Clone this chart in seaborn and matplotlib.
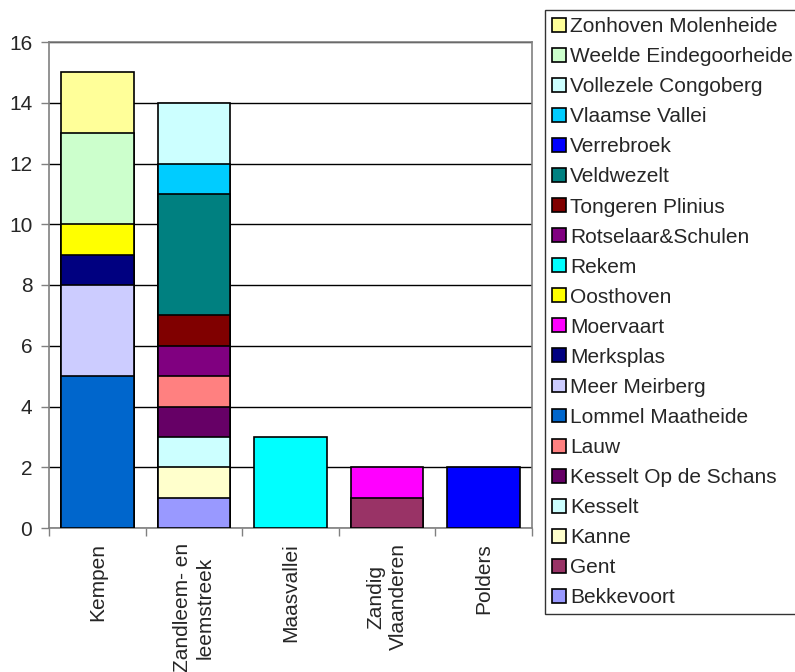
import matplotlib
matplotlib.use("Agg")
import matplotlib.pyplot as plt
import seaborn as sns
import numpy as np
import pandas as pd
from matplotlib.patches import Patch

categories = ["Kempen", "Zandleem- en\nleemstreek", "Maasvallei", "Zandig\nVlaanderen", "Polders"]

series_names = ["Bekkevoort", "Gent", "Kanne", "Kesselt", "Kesselt Op de Schans", "Lauw",
                "Lommel Maatheide", "Meer Meirberg", "Merksplas", "Moervaart", "Oosthoven",
                "Rekem", "Rotselaar&Schulen", "Tongeren Plinius", "Veldwezelt", "Verrebroek",
                "Vlaamse Vallei", "Vollezele Congoberg", "Weelde Eindegoorheide", "Zonhoven Molenheide"]

bekkevoort = [0, 1, 0, 0, 0]
gent = [0, 0, 0, 1, 0]
kanne = [0, 1, 0, 0, 0]
kesselt = [0, 1, 0, 0, 0]
kesselt_schans = [0, 1, 0, 0, 0]
lauw = [0, 1, 0, 0, 0]
lommel = [5, 0, 0, 0, 0]
meer_meirberg = [3, 0, 0, 0, 0]
merksplas = [1, 0, 0, 0, 0]
moervaart = [0, 0, 0, 1, 0]
oosthoven = [1, 0, 0, 0, 0]
rekem = [0, 0, 3, 0, 0]
rotselaar = [0, 1, 0, 0, 0]
tongeren = [0, 1, 0, 0, 0]
veldwezelt = [0, 4, 0, 0, 0]
verrebroek = [0, 0, 0, 0, 2]
vlaamse_vallei = [0, 1, 0, 0, 0]
vollezele = [0, 2, 0, 0, 0]
weelde = [3, 0, 0, 0, 0]
zonhoven = [2, 0, 0, 0, 0]

series_values = [bekkevoort, gent, kanne, kesselt, kesselt_schans, lauw, lommel, meer_meirberg,
                 merksplas, moervaart, oosthoven, rekem, rotselaar, tongeren, veldwezelt,
                 verrebroek, vlaamse_vallei, vollezele, weelde, zonhoven]

colors = ["#9999FF", "#993366", "#FFFFCC", "#CCFFFF", "#660066", "#FF8080", "#0066CC",
          "#CCCCFF", "#000080", "#FF00FF", "#FFFF00", "#00FFFF", "#800080", "#800000",
          "#008080", "#0000FF", "#00CCFF", "#CCFFFF", "#CCFFCC", "#FFFF99"]

y_ticks = [0, 2, 4, 6, 8, 10, 12, 14, 16]

sns.set_style("white")
plt.rcParams["font.family"] = ["Liberation Sans", "DejaVu Sans"]

fig = plt.figure(figsize=(7.95, 6.72), dpi=100)
ax = fig.add_axes([49/795, 1-528/672, (532-49)/795, (528-42)/672])

vals = np.array(series_values, dtype=float)
cum = np.cumsum(vals, axis=0)

# draw cumulative totals from top series down so lower segments cover
for i in range(len(series_names) - 1, -1, -1):
    heights = np.where(vals[i] > 0, cum[i], np.nan)
    df = pd.DataFrame({"cat": categories, "h": heights})
    df = df.dropna()
    if df.empty:
        continue
    sns.barplot(data=df, x="cat", y="h", order=categories, color=colors[i],
                saturation=1, width=0.75, edgecolor="black", linewidth=1.2,
                errorbar=None, ax=ax, zorder=3)

ax.set_xlim(-0.5, 4.5)
ax.set_ylim(0, 16)
ax.set_yticks(y_ticks)
ax.set_xlabel("")
ax.set_ylabel("")

ax.yaxis.grid(True, color="black", linewidth=1)
ax.set_axisbelow(True)
for s in ax.spines.values():
    s.set_color("#808080")
    s.set_linewidth(1.2)
    s.set_visible(True)

ax.tick_params(axis="y", which="major", direction="out", length=6, width=1, color="#808080",
               labelsize=15, pad=6, left=True)
ax.set_xticks(range(len(categories)))
ax.set_xticklabels(categories, rotation=90, fontsize=15, ha="center", va="top",
                   multialignment="center")
ax.tick_params(axis="x", which="major", length=0, pad=11)
ax.set_xticks(np.arange(-0.5, 5.0, 1.0), minor=True)
ax.tick_params(axis="x", which="minor", direction="out", length=6, width=1, color="#808080",
               bottom=True)

handles = [Patch(facecolor=colors[i], edgecolor="black", linewidth=1.2, label=series_names[i])
           for i in range(len(series_names) - 1, -1, -1)]
leg = fig.legend(handles=handles, loc="upper left", bbox_to_anchor=(545/795, 1-10/672),
                 bbox_transform=fig.transFigure, fontsize=15, frameon=True, fancybox=False,
                 edgecolor="black", borderaxespad=0, handlelength=0.65, handleheight=0.65,
                 handletextpad=0.2, labelspacing=0.53, borderpad=0.35)
leg.get_frame().set_linewidth(1)

fig.savefig("out.png", dpi=100)
